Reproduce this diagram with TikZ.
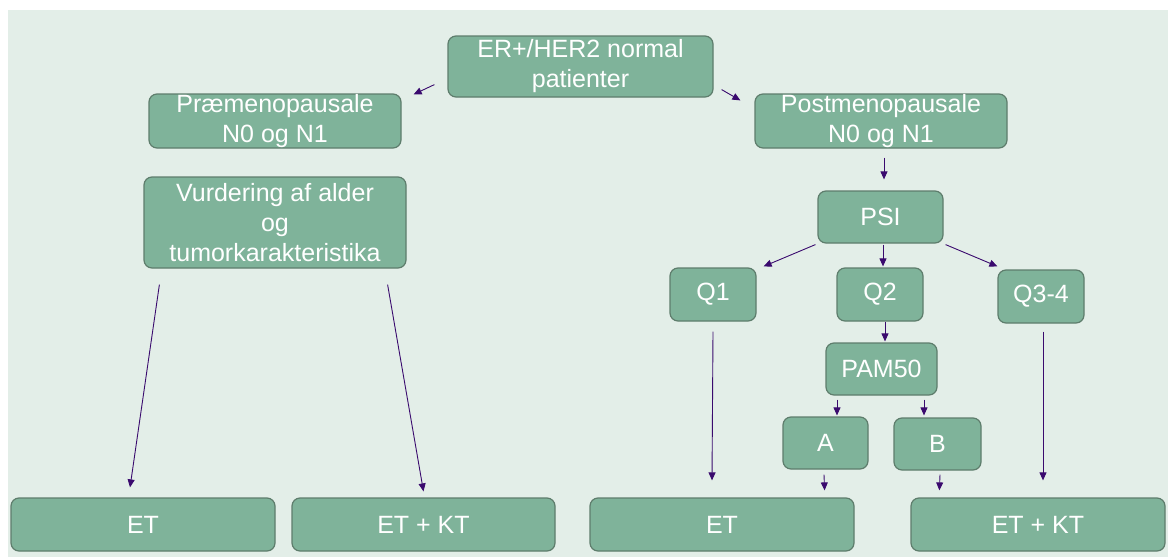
\documentclass[tikz,border=0pt]{standalone}
\usepackage{fontspec}
\setmainfont{Liberation Sans}
\usetikzlibrary{arrows.meta}
\definecolor{bgcol}{HTML}{E3EEE8}
\definecolor{boxfill}{HTML}{7FB39A}
\definecolor{boxline}{HTML}{5E7D6C}
\definecolor{arrowcol}{HTML}{3A0A6E}
\begin{document}
\begin{tikzpicture}[x=1pt,y=-1pt,
	box node/.style={rectangle,rounded corners=8pt,draw=boxline,line width=1.2pt,fill=boxfill,
		text=white,align=center,inner sep=0pt,font=\fontsize{25}{30}\selectfont},
	flow/.style={draw=arrowcol,line width=0.9pt,-{Triangle[length=8pt,width=7pt]}}
]

	\useasboundingbox (0,0) rectangle (1168,557);
	\fill[white] (0,0) rectangle (1168,557);
	\fill[bgcol] (8,10) rectangle (1168,557);

	% top and the two branches
	\node[box node,minimum width=265pt,minimum height=61pt] (top) at (580.5,66.5) {ER+/HER2 normal\\patienter};
	\node[box node,minimum width=252pt,minimum height=54pt] (pre) at (275,121) {Præmenopausale\\N0 og N1};
	\node[box node,minimum width=262pt,minimum height=91pt] (vurd) at (275,222.5) {Vurdering af alder\\og\\tumorkarakteristika};
	\node[box node,minimum width=252pt,minimum height=54pt] (post) at (881,121) {Postmenopausale\\N0 og N1};

	% postmenopausal tree
	\node[box node,minimum width=125pt,minimum height=52pt] (psi) at (880.5,217) {PSI};
	\node[box node,minimum width=86pt,minimum height=53pt] (q1) at (713,294.5) {Q1};
	\node[box node,minimum width=86pt,minimum height=53pt] (q2) at (880,294.5) {Q2};
	\node[box node,minimum width=86pt,minimum height=53pt] (q34) at (1041,296.5) {Q3-4};
	\node[box node,minimum width=111pt,minimum height=52pt] (pam) at (881.5,369) {PAM50};
	\node[box node,minimum width=85pt,minimum height=52pt] (a) at (825.5,443) {A};
	\node[box node,minimum width=87pt,minimum height=52pt] (b) at (937.5,444) {B};

	% treatments
	\node[box node,minimum width=264pt,minimum height=53pt] (etl) at (143,524.5) {ET};
	\node[box node,minimum width=263pt,minimum height=53pt] (etktl) at (423.5,524.5) {ET + KT};
	\node[box node,minimum width=264pt,minimum height=53pt] (etr) at (722,524.5) {ET};
	\node[box node,minimum width=254pt,minimum height=53pt] (etktr) at (1038,524.5) {ET + KT};

	% arrows
	\draw[flow] ([xshift=-13pt,yshift=13pt]top.south west) -- ([xshift=12pt,yshift=-1pt]pre.north east);
	\draw[flow] ([xshift=8pt,yshift=8pt]top.south east) -- ([xshift=-14pt,yshift=-7pt]post.north west);
	\draw[flow] ([xshift=3pt,yshift=-9pt]post.south) -- ([xshift=3.5pt,yshift=11pt]psi.north);
	\draw[flow] ([xshift=-2pt,yshift=-1pt]psi.south west) -- ([xshift=7pt,yshift=1pt]q1.north east);
	\draw[flow] ([xshift=2.5pt,yshift=-1pt]psi.south) -- ([xshift=3pt,yshift=1pt]q2.north);
	\draw[flow] ([xshift=2pt,yshift=-1pt]psi.south east) -- ([yshift=3pt]q34.north west);
	\draw[flow] ([xshift=16pt,yshift=-16pt]vurd.south west) -- ([xshift=-13pt,yshift=10pt]etl.north);
	\draw[flow] ([xshift=-19pt,yshift=-16pt]vurd.south east) -- ([yshift=6pt]etktl.north);
	\draw[flow] ([yshift=-10pt]q1.south) -- ([xshift=-10pt,yshift=17pt]etr.north);
	\draw[flow] ([xshift=5pt]q2.south) -- ([xshift=3.5pt,yshift=1pt]pam.north);
	\draw[flow] ([xshift=-44.5pt,yshift=-4pt]pam.south) -- ([xshift=11.5pt,yshift=1pt]a.north);
	\draw[flow] ([xshift=42.5pt,yshift=-4pt]pam.south) -- ([xshift=-13.5pt,yshift=2pt]b.north);
	\draw[flow] ([xshift=-1.5pt,yshift=-5pt]a.south) -- ([xshift=-30pt,yshift=7pt]etr.north east);
	\draw[flow] ([xshift=2.5pt,yshift=-4pt]b.south) -- ([xshift=29pt,yshift=7pt]etktr.north west);
	\draw[flow] ([xshift=2pt,yshift=-8pt]q34.south) -- ([xshift=5pt,yshift=17pt]etktr.north);
\end{tikzpicture}
\end{document}
